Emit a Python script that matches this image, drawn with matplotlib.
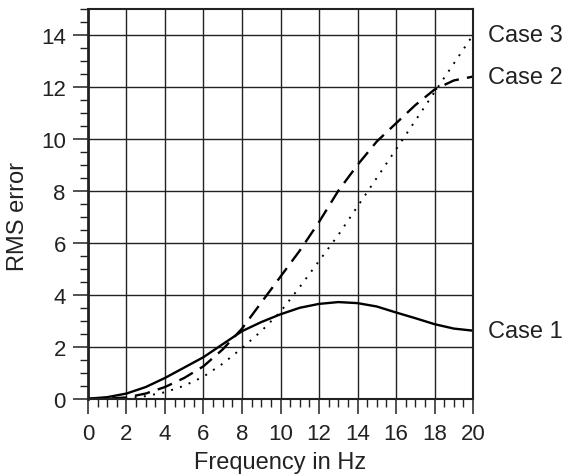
import matplotlib
matplotlib.use('Agg')
import matplotlib.pyplot as plt
from matplotlib.ticker import MultipleLocator

plt.rcParams['font.family'] = ['Liberation Sans', 'DejaVu Sans']

# Dados
freq = [0, 1, 2, 3, 4, 5, 6, 7, 8, 9, 10, 11, 12, 13, 14, 15, 16, 17, 18, 19, 20]
case1 = [0, 0.06, 0.2, 0.45, 0.8, 1.2, 1.6, 2.1, 2.6, 2.95, 3.25, 3.5, 3.65, 3.72,
         3.68, 3.55, 3.32, 3.1, 2.87, 2.7, 2.62]
case2 = [0, 0, 0.05, 0.2, 0.45, 0.8, 1.25, 1.9, 2.7, 3.7, 4.7, 5.7, 6.8, 8.0,
         9.0, 9.9, 10.6, 11.3, 11.9, 12.25, 12.4]
case3 = [0, 0, 0.02, 0.1, 0.25, 0.5, 0.85, 1.35, 1.95, 2.6, 3.35, 4.3, 5.3, 6.3,
         7.4, 8.5, 9.6, 10.7, 11.8, 12.9, 14.0]
labels = ['Case 1', 'Case 2', 'Case 3']

txt = '#222222'

fig = plt.figure(figsize=(5.64, 4.77), dpi=100)
ax = fig.add_axes([0.156, 0.162, 0.8387 - 0.156, 0.979 - 0.162])

ax.plot(freq, case1, color='black', lw=1.7, solid_capstyle='butt')
ax.plot(freq, case2, color='black', lw=1.7, dashes=(6.5, 3.5))
ax.plot(freq, case3, color='black', lw=1.4, linestyle=(0, (1, 3.8)))

# Rótulos no fim de cada curva
for lab, ser in zip(labels, [case1, case2, case3]):
    ax.annotate(lab, xy=(freq[-1], ser[-1]), xytext=(11, 0), textcoords='offset points',
                ha='left', va='center', fontsize=17, color=txt, annotation_clip=False)

ax.set_xlim(0, 20)
ax.set_ylim(0, 15)
ax.xaxis.set_major_locator(MultipleLocator(2))
ax.xaxis.set_minor_locator(MultipleLocator(0.5))
ax.yaxis.set_major_locator(MultipleLocator(2))
ax.yaxis.set_minor_locator(MultipleLocator(0.5))

ax.tick_params(which='major', direction='out', length=10.5, width=1.1,
               labelsize=16, pad=5.5, colors=txt)
ax.tick_params(which='minor', direction='out', length=5.5, width=1.0, colors=txt)
ax.tick_params(axis='x', which='major', pad=7)
ax.tick_params(axis='x', which='both', top=False)
ax.tick_params(axis='y', which='both', right=False)

ax.grid(True, which='major', color='#222222', lw=1.0)
ax.set_axisbelow(True)

for side in ['top', 'right', 'bottom']:
    ax.spines[side].set_linewidth(1.5)
    ax.spines[side].set_color(txt)
ax.spines['left'].set_linewidth(2.0)
ax.spines['left'].set_color(txt)

ax.set_xlabel('Frequency in Hz', fontsize=17, color=txt, labelpad=5)
ax.set_ylabel('RMS error', fontsize=17, color=txt)
ax.yaxis.set_label_coords(-0.152, 0.469)

plt.savefig('out.png', dpi=100)
